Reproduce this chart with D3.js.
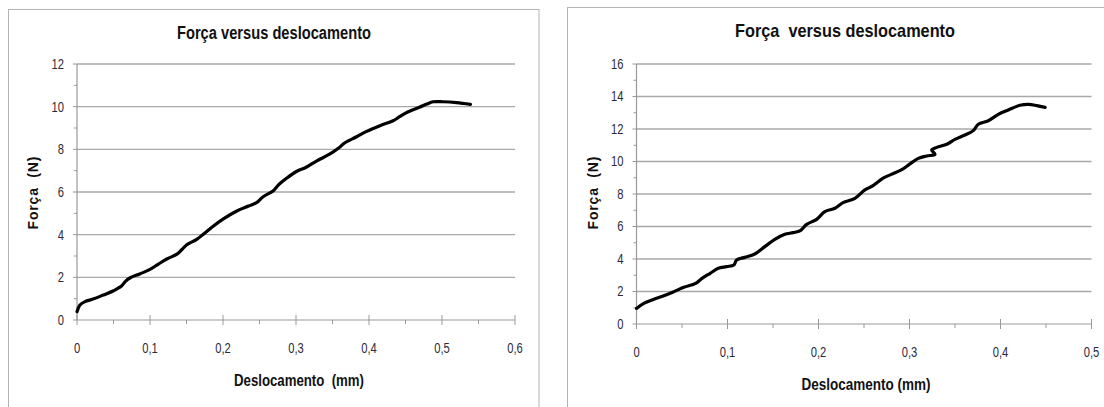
<!DOCTYPE html>
<html>
<head>
<meta charset="utf-8">
<script src="https://cdn.jsdelivr.net/npm/d3@7"></script>
<style>
  html, body { margin: 0; padding: 0; background: #fff; }
  svg { display: block; }
  .tick-lbl { font-family: "Liberation Sans", Arial, sans-serif; font-size: 14px; fill: #2a2a3a; }
  .title { font-family: "Liberation Sans", Arial, sans-serif; font-weight: bold; fill: #111; }
  .ylab { font-family: "Liberation Sans", Arial, sans-serif; font-weight: bold; font-size: 14px; fill: #111; }
</style>
</head>
<body>
<script>
// left chart: força (N) vs deslocamento (mm)
const leftX = [0, 0.004, 0.011, 0.022, 0.036, 0.05, 0.061, 0.066, 0.073, 0.086, 0.1, 0.111, 0.123, 0.137, 0.143, 0.15,
  0.164, 0.173, 0.187, 0.2, 0.219, 0.235, 0.246, 0.255, 0.269, 0.276, 0.287, 0.3, 0.314, 0.328, 0.346, 0.358, 0.367,
  0.383, 0.396, 0.415, 0.433, 0.442, 0.453, 0.469, 0.479, 0.488, 0.501, 0.52, 0.539];
const leftY = [0.39, 0.70, 0.86, 0.98, 1.17, 1.37, 1.59, 1.80, 1.98, 2.16, 2.37, 2.61, 2.86, 3.09, 3.28, 3.52,
  3.78, 4.02, 4.41, 4.73, 5.11, 5.34, 5.5, 5.78, 6.06, 6.33, 6.64, 6.95, 7.16, 7.45, 7.77, 8.05, 8.31,
  8.59, 8.83, 9.11, 9.34, 9.53, 9.75, 9.97, 10.12, 10.23, 10.23, 10.19, 10.11];
const leftXTicks = [0, 0.1, 0.2, 0.3, 0.4, 0.5, 0.6];
const leftYTicks = [0, 2, 4, 6, 8, 10, 12];

// right chart
const rightX = [0, 0.008, 0.019, 0.03, 0.041, 0.052, 0.065, 0.072, 0.081, 0.09, 0.099, 0.107, 0.11, 0.119, 0.13,
  0.141, 0.152, 0.163, 0.172, 0.18, 0.187, 0.198, 0.207, 0.218, 0.227, 0.24, 0.251, 0.26, 0.271, 0.28, 0.291,
  0.3005, 0.3097, 0.319, 0.328, 0.3244, 0.33, 0.341, 0.35, 0.361, 0.37, 0.3756, 0.3866, 0.3976, 0.4086, 0.4214,
  0.4306, 0.44, 0.449];
const rightY = [0.96, 1.27, 1.52, 1.74, 1.99, 2.26, 2.5, 2.81, 3.12, 3.43, 3.53, 3.63, 3.94, 4.1, 4.31,
  4.76, 5.21, 5.52, 5.62, 5.74, 6.13, 6.44, 6.91, 7.12, 7.47, 7.73, 8.25, 8.52, 8.97, 9.21, 9.48,
  9.85, 10.19, 10.34, 10.44, 10.71, 10.87, 11.06, 11.36, 11.63, 11.9, 12.29, 12.51, 12.9, 13.17, 13.46,
  13.52, 13.44, 13.33];
const rightXTicks = [0, 0.1, 0.2, 0.3, 0.4, 0.5];
const rightYTicks = [0, 2, 4, 6, 8, 10, 12, 14, 16];

const titleText = ["Força versus deslocamento", "Força\u00a0 versus deslocamento"];
const xLabelText = ["Deslocamento\u00a0 (mm)", "Deslocamento (mm)"];
const yLabelText = "Força\u00a0 (N)";

const fmt = d => String(+d.toFixed(2)).replace(".", ",");
const NARROW = 0.8; // squeeze Liberation Sans to look like a narrow face

const svg = d3.select("body").append("svg")
  .attr("width", 1104)
  .attr("height", 407);

function drawChart(o) {
  const g = svg.append("g");

  g.append("rect")
    .attr("x", o.box[0]).attr("y", o.box[1])
    .attr("width", o.box[2]).attr("height", o.box[3])
    .attr("fill", "#fff").attr("stroke", "#b4b4b4").attr("stroke-width", 1);

  const x = d3.scaleLinear().domain(d3.extent(o.xTicks)).range([o.x0, o.x1]);
  const y = d3.scaleLinear().domain(d3.extent(o.yTicks)).range([o.y0, o.y1]);

  // gridlines
  g.selectAll(".grid").data(o.yTicks.slice(1)).join("line")
    .attr("x1", o.x0).attr("x2", o.x1)
    .attr("y1", d => y(d)).attr("y2", d => y(d))
    .attr("stroke", "#a8a8a8").attr("stroke-width", 1.3);

  // minor y ticks
  const yMinor = d3.range(o.yTicks[0], o.yTicks[o.yTicks.length - 1] + 0.001, 1)
    .filter(v => o.yTicks.indexOf(v) < 0);
  g.selectAll(".ymin").data(yMinor).join("line")
    .attr("x1", o.x0 - 3).attr("x2", o.x0)
    .attr("y1", d => y(d)).attr("y2", d => y(d))
    .attr("stroke", "#999").attr("stroke-width", 1);
  g.selectAll(".ymaj").data(o.yTicks).join("line")
    .attr("x1", o.x0 - 4).attr("x2", o.x0)
    .attr("y1", d => y(d)).attr("y2", d => y(d))
    .attr("stroke", "#999").attr("stroke-width", 1);

  // minor / major x ticks
  const xMinor = o.xTicks.slice(0, -1).map(v => v + 0.05);
  g.selectAll(".xmin").data(xMinor).join("line")
    .attr("x1", d => x(d)).attr("x2", d => x(d))
    .attr("y1", o.y0).attr("y2", o.y0 + 4)
    .attr("stroke", "#999").attr("stroke-width", 1);
  g.selectAll(".xmaj").data(o.xTicks).join("line")
    .attr("x1", d => x(d)).attr("x2", d => x(d))
    .attr("y1", o.y0 - 5).attr("y2", o.y0 + 5)
    .attr("stroke", "#999").attr("stroke-width", 1);

  // axes
  g.append("line").attr("x1", o.x0).attr("x2", o.x0).attr("y1", o.y0).attr("y2", o.y1)
    .attr("stroke", "#999").attr("stroke-width", 1.2);
  g.append("line").attr("x1", o.x0).attr("x2", o.x1).attr("y1", o.y0).attr("y2", o.y0)
    .attr("stroke", "#999").attr("stroke-width", 1.2);

  // tick labels
  g.selectAll(".ylbl").data(o.yTicks).join("text")
    .attr("class", "tick-lbl")
    .attr("transform", d => `translate(${o.x0 - 13},${y(d)}) scale(${NARROW},1)`)
    .attr("dy", "0.35em").attr("text-anchor", "end")
    .text(d => d);
  g.selectAll(".xlbl").data(o.xTicks).join("text")
    .attr("class", "tick-lbl")
    .attr("transform", d => `translate(${x(d)},${o.xLblY}) scale(${NARROW},1)`)
    .attr("dy", "0.35em").attr("text-anchor", "middle")
    .text(fmt);

  // curve
  const pts = o.xs.map((v, i) => [v, o.ys[i]]);
  g.append("path")
    .datum(pts)
    .attr("fill", "none")
    .attr("stroke", "#000")
    .attr("stroke-width", 3.2)
    .attr("stroke-linejoin", "round")
    .attr("stroke-linecap", "round")
    .attr("d", d3.line().x(d => x(d[0])).y(d => y(d[1])).curve(d3.curveCatmullRom.alpha(0.5)));

  // titles
  g.append("text").attr("class", "title")
    .attr("x", o.titleX).attr("y", o.titleY)
    .attr("text-anchor", "middle")
    .style("font-size", o.titleSize + "px")
    .attr("textLength", o.titleW).attr("lengthAdjust", "spacingAndGlyphs")
    .text(o.title);
  g.append("text").attr("class", "title")
    .attr("x", o.xLabX).attr("y", o.xLabY)
    .attr("text-anchor", "middle")
    .style("font-size", o.xLabSize + "px")
    .attr("textLength", o.xLabW).attr("lengthAdjust", "spacingAndGlyphs")
    .text(o.xLabel);
  g.append("text").attr("class", "ylab")
    .attr("transform", `translate(${o.yLabX},${o.yLabY}) rotate(-90)`)
    .attr("text-anchor", "middle")
    .attr("textLength", 73).attr("lengthAdjust", "spacing")
    .text(yLabelText);
}

drawChart({
  box: [8.5, 9.5, 530.5, 420],
  x0: 77, x1: 515, y0: 320, y1: 64,
  xTicks: leftXTicks, yTicks: leftYTicks,
  xs: leftX, ys: leftY,
  xLblY: 348,
  title: titleText[0], titleX: 274, titleY: 39, titleSize: 17.5, titleW: 194,
  xLabel: xLabelText[0], xLabX: 299, xLabY: 386, xLabSize: 16, xLabW: 130,
  yLabX: 38, yLabY: 193
});

drawChart({
  box: [567.5, 7.5, 560, 420],
  x0: 636.5, x1: 1091.5, y0: 324, y1: 64,
  xTicks: rightXTicks, yTicks: rightYTicks,
  xs: rightX, ys: rightY,
  xLblY: 352,
  title: titleText[1], titleX: 845, titleY: 37, titleSize: 19, titleW: 220,
  xLabel: xLabelText[1], xLabX: 866, xLabY: 390, xLabSize: 16.5, xLabW: 129,
  yLabX: 598, yLabY: 193
});
</script>
</body>
</html>
